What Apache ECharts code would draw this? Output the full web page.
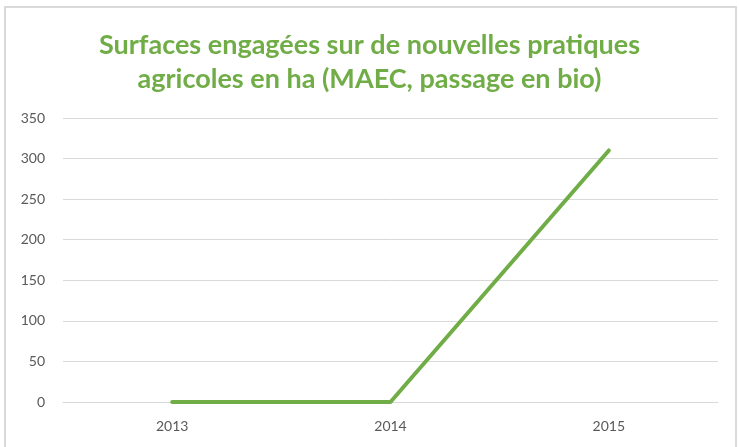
<!DOCTYPE html>
<html>
<head>
<meta charset="utf-8">
<script src="https://cdn.jsdelivr.net/npm/echarts@6/dist/echarts.min.js"></script>
<style>
  html, body { margin: 0; padding: 0; background: #fff; }
  #frame { position: absolute; left: 4px; top: 6px; width: 733px; height: 450px; border: 2px solid #d9d9d9; box-sizing: border-box; }
  #mychart { position: absolute; left: 0; top: 0; width: 739px; height: 447px; }
</style>
</head>
<body>
<div id="frame"></div>
<div id="mychart"></div>
<script>
  // données
  const years = ['2013', '2014', '2015']
  const surfaces = [0, 0, 310]
  const yTicks = { min: 0, max: 350, interval: 50 }
  const titre = 'Surfaces engagées sur de nouvelles pratiques\nagricoles en ha (MAEC, passage en bio)'

  const chart = echarts.init(document.getElementById('mychart'))
  var option = {
    animation: false,
    title: {
      text: titre,
      left: 'center',
      top: 23,
      textStyle: {
        fontFamily: 'Lato',
        fontSize: 27,
        fontWeight: 'bold',
        color: '#70AD47',
        lineHeight: 34
      }
    },
    grid: {
      left: 63,
      right: 21,
      top: 118,
      bottom: 45
    },
    xAxis: {
      type: 'category',
      data: years,
      axisLine: { show: true, lineStyle: { color: '#d9d9d9', width: 1 } },
      axisTick: { show: false },
      axisLabel: { color: '#595959', fontFamily: 'Lato', fontSize: 14, margin: 17 }
    },
    yAxis: {
      type: 'value',
      min: yTicks.min,
      max: yTicks.max,
      interval: yTicks.interval,
      axisLine: { show: false },
      axisTick: { show: false },
      splitLine: { lineStyle: { color: '#d9d9d9', width: 1 } },
      axisLabel: { color: '#595959', fontFamily: 'Lato', fontSize: 14, margin: 18 }
    },
    series: [
      {
        type: 'line',
        data: surfaces,
        symbol: 'none',
        lineStyle: { color: '#70AD47', width: 4, cap: 'round', join: 'round' }
      }
    ]
  }
  chart.setOption(option)
</script>
</body>
</html>
